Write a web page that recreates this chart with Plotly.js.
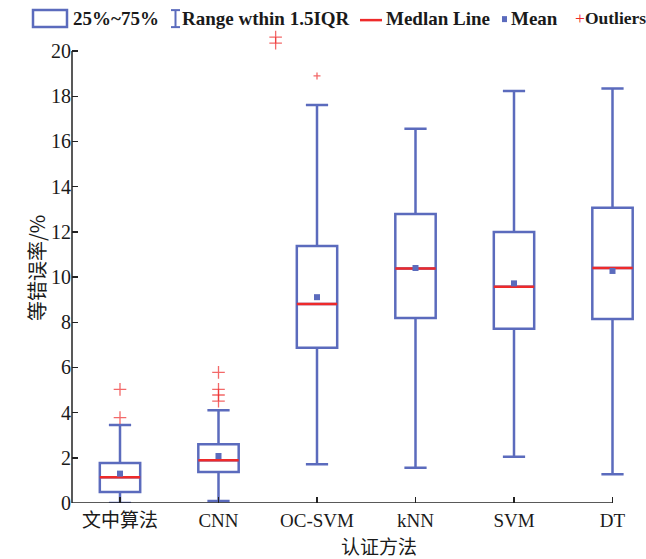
<!DOCTYPE html>
<html><head><meta charset="utf-8">
<script src="https://cdn.plot.ly/plotly-3.0.1.min.js"></script>
<style>body{margin:0;background:#fff}#chart{width:646px;height:559px}</style>
</head><body><div id="chart"></div>
<script>
// ---- data ----
const categories = ['文中算法','CNN','OC-SVM','kNN','SVM','DT'];
const q1 = [0.49, 1.37, 6.87, 8.19, 7.71, 8.14];
const median = [1.14, 1.89, 8.81, 10.38, 9.57, 10.40];
const q3 = [1.77, 2.60, 11.37, 12.79, 11.99, 13.07];
const lowerWhisker = [0.0, 0.09, 1.71, 1.56, 2.05, 1.27];
const upperWhisker = [3.45, 4.10, 17.62, 16.56, 18.23, 18.35];
const meanVal = [1.30, 2.08, 9.11, 10.40, 9.72, 10.27];
const outlierGroup = [0, 0, 1, 1, 1, 1, 2, 2, 2];
const outlierValue = [3.78, 5.03, 4.51, 4.78, 5.03, 5.78, 18.9, 20.35, 20.62];
const outlierOffset = [0, 0, 0, 0, 0, 0, 0, -0.42, -0.42];
const outlierSize = [9, 9, 9, 9, 9, 9, 5, 9, 9];
const yTicks = [0, 2, 4, 6, 8, 10, 12, 14, 16, 18, 20];

// ---- style ----
const BLUE = '#5b6bbd', RED = '#ee2a2a';
const BOXW = 0.41;
const YMAX = 21.2;
const W = 646, H = 559, ML = 72, MR = 8, MB = 56;
const UNIT = 22.6;
const MT = H - MB - YMAX * UNIT;
const PW = W - ML - MR, PH = H - MT - MB;
const px = x => (x - ML) / PW;
const py = y => (H - MB - y) / PH;
const serif = 'Liberation Serif, Times New Roman, serif';
const cjk = 'Noto Sans CJK SC, sans-serif';

const pos = categories.map((c, i) => i);

const boxTrace = {
  type: 'box', x: pos, q1: q1, median: median, q3: q3,
  lowerfence: lowerWhisker, upperfence: upperWhisker,
  boxpoints: false, width: BOXW, whiskerwidth: 0.55,
  line: {color: BLUE, width: 2.5}, fillcolor: 'rgba(255,255,255,0)',
  hoverinfo: 'skip', showlegend: false
};

const mx = [], my = [];
pos.forEach((p, i) => { mx.push(p - BOXW / 2, p + BOXW / 2, null); my.push(median[i], median[i], null); });
const medianTrace = {type: 'scatter', mode: 'lines', x: mx, y: my,
  line: {color: RED, width: 2.5}, showlegend: false, hoverinfo: 'skip', cliponaxis: false};

const meanTrace = {type: 'scatter', mode: 'markers', x: pos, y: meanVal,
  marker: {symbol: 'square', size: 6, color: BLUE}, showlegend: false, hoverinfo: 'skip'};

const outTrace = {type: 'scatter', mode: 'markers',
  x: outlierGroup.map((g, i) => pos[g] + outlierOffset[i]), y: outlierValue,
  marker: {symbol: 'cross-thin', size: outlierSize, line: {color: RED, width: 1.3}},
  cliponaxis: false, showlegend: false, hoverinfo: 'skip'};

const xmin = (ML - 120) / 98.5, xmax = xmin + PW / 98.5;

const shapes = [
  // axis lines: x up to last category, y up to 20
  {type: 'line', xref: 'x', yref: 'y', x0: xmin, x1: pos[pos.length - 1], y0: 0, y1: 0, line: {color: '#222', width: 1.5}},
  {type: 'line', xref: 'paper', yref: 'y', x0: 0, x1: 0, y0: 0, y1: yTicks[yTicks.length - 1], line: {color: '#222', width: 1.5}},
  // legend: box
  {type: 'rect', xref: 'paper', yref: 'paper', x0: px(33), x1: px(67), y0: py(10), y1: py(27), line: {color: BLUE, width: 2.5}},
  // legend: I-beam
  {type: 'line', xref: 'paper', yref: 'paper', x0: px(175.5), x1: px(175.5), y0: py(10), y1: py(27), line: {color: BLUE, width: 2}},
  {type: 'line', xref: 'paper', yref: 'paper', x0: px(171), x1: px(180), y0: py(10), y1: py(10), line: {color: BLUE, width: 2}},
  {type: 'line', xref: 'paper', yref: 'paper', x0: px(171), x1: px(180), y0: py(27), y1: py(27), line: {color: BLUE, width: 2}},
  // legend: median line
  {type: 'line', xref: 'paper', yref: 'paper', x0: px(360), x1: px(382), y0: py(20), y1: py(20), line: {color: RED, width: 2.5}},
  // legend: mean square
  {type: 'rect', xref: 'paper', yref: 'paper', x0: px(502), x1: px(507), y0: py(16), y1: py(22), line: {width: 0}, fillcolor: BLUE}
];

const legFont = {family: serif, size: 19, color: '#1a1a1a'};
const annotations = [
  {text: '<b>25%~75%</b>', x: px(72), y: py(18), xanchor: 'left', yanchor: 'middle'},
  {text: '<b>Range wthin 1.5IQR</b>', x: px(181), y: py(18), xanchor: 'left', yanchor: 'middle'},
  {text: '<b>Medlan Line</b>', x: px(385), y: py(18), xanchor: 'left', yanchor: 'middle'},
  {text: '<b>Mean</b>', x: px(510), y: py(18), xanchor: 'left', yanchor: 'middle'},
  {text: '<span style="color:' + RED + '">+</span><b>Outliers</b>', x: px(574), y: py(18), xanchor: 'left', yanchor: 'middle',
    font: {family: serif, size: 17.5, color: '#1a1a1a'}},
].map(a => Object.assign({xref: 'paper', yref: 'paper', showarrow: false, font: legFont, borderpad: 0}, a));
annotations.push({xref: 'paper', yref: 'paper', x: px(379), y: py(546), text: '认证方法',
  showarrow: false, xanchor: 'center', yanchor: 'middle', font: {family: cjk, size: 19, color: '#1a1a1a'}});
annotations.push({xref: 'paper', yref: 'paper', x: px(36), y: py(268), text: '等错误率/%', textangle: -90,
  showarrow: false, xanchor: 'center', yanchor: 'middle', font: {family: cjk, size: 20, color: '#1a1a1a'}});

const layout = {
  width: W, height: H, margin: {l: ML, r: MR, t: MT, b: MB},
  paper_bgcolor: '#fff', plot_bgcolor: '#fff', showlegend: false,
  xaxis: {range: [xmin, xmax], tickmode: 'array', tickvals: pos, ticktext: categories,
    ticks: 'inside', ticklen: 6, tickwidth: 1.5, tickcolor: '#222', showline: false,
    showgrid: false, zeroline: false, fixedrange: true, ticklabelstandoff: 4,
    tickfont: {family: serif + ', Noto Sans CJK SC', size: 19, color: '#1a1a1a'}},
  yaxis: {range: [0, YMAX], tickmode: 'array', tickvals: yTicks, ticks: 'inside', ticklen: 6, tickwidth: 1.5,
    tickcolor: '#222', showline: false, showgrid: false, zeroline: false,
    fixedrange: true, tickfont: {family: serif, size: 20, color: '#1a1a1a'}},
  shapes: shapes, annotations: annotations
};

Plotly.newPlot('chart', [boxTrace, medianTrace, meanTrace, outTrace], layout, {displayModeBar: false, staticPlot: true});
</script></body></html>
